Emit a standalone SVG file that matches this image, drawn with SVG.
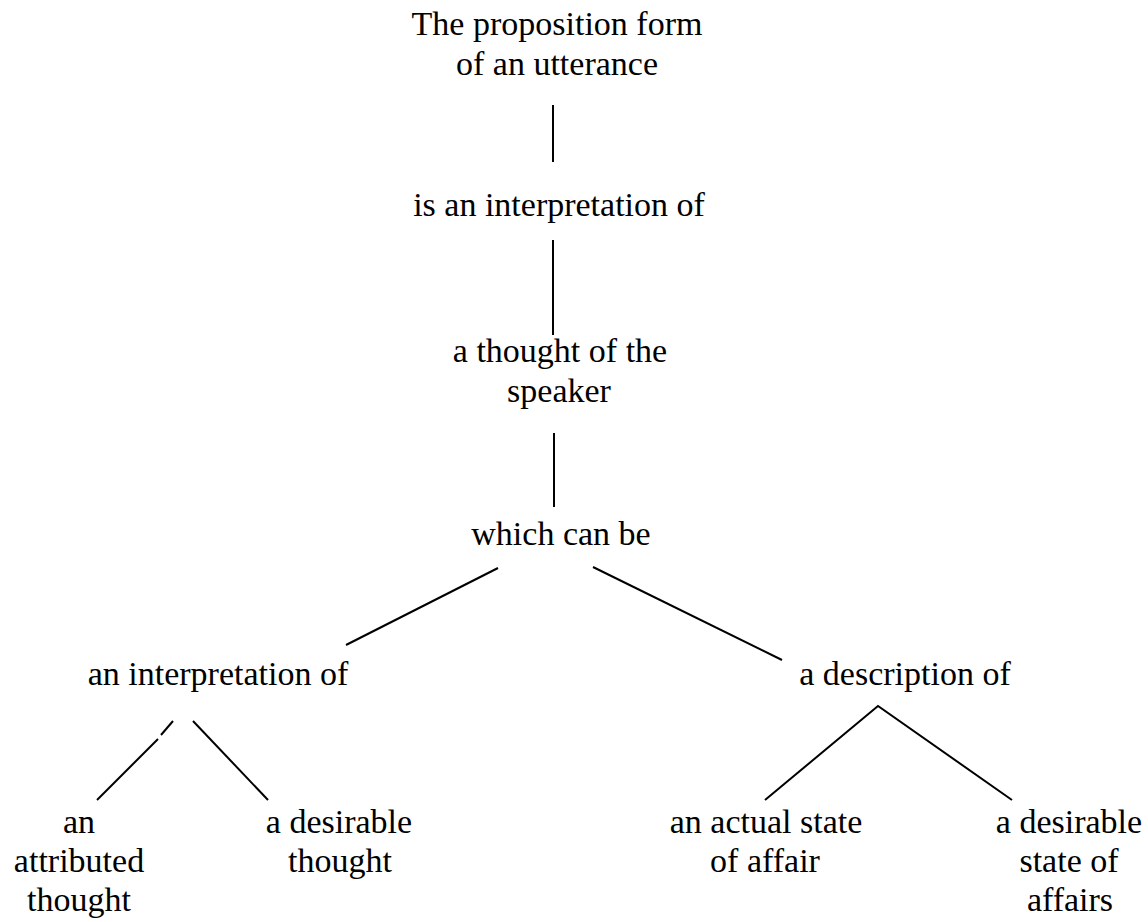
<svg xmlns="http://www.w3.org/2000/svg" width="1148" height="922" viewBox="0 0 1148 922">
  <style>
    .lbl { font-family: "Liberation Serif", "Times New Roman", serif; font-size: 34px; fill: #000; text-anchor: middle; }
    .edge { stroke: #000; stroke-width: 2; fill: none; stroke-linecap: butt; }
  </style>
  <rect width="1148" height="922" fill="#fff"/>

  <!-- connectors -->
  <g id="connectors">
    <line class="edge" x1="553" y1="105" x2="553" y2="162"/>
    <line class="edge" x1="553" y1="240" x2="553" y2="335"/>
    <line class="edge" x1="554" y1="433" x2="554" y2="507"/>
    <line class="edge" x1="498" y1="568" x2="346" y2="645"/>
    <line class="edge" x1="593" y1="567" x2="782" y2="660"/>
    <!-- left sub-branch, broken near the top -->
    <line class="edge" x1="173" y1="721" x2="161" y2="735"/>
    <line class="edge" x1="158" y1="739" x2="97" y2="800"/>
    <line class="edge" x1="193" y1="721" x2="268" y2="800"/>
    <!-- description branches -->
    <polyline class="edge" points="765,800 878,706 1012,800"/>
  </g>

  <g id="n-proposition">
    <text class="lbl" x="557" y="35">The proposition form</text>
    <text class="lbl" x="557" y="75">of an utterance</text>
  </g>
  <g id="n-interpretation-of">
    <text class="lbl" x="559" y="216">is an interpretation of</text>
  </g>
  <g id="n-thought">
    <text class="lbl" x="560" y="362">a thought of the</text>
    <text class="lbl" x="559" y="402">speaker</text>
  </g>
  <g id="n-which">
    <text class="lbl" x="561" y="545">which can be</text>
  </g>
  <g id="n-interpretation">
    <text class="lbl" x="218" y="685">an interpretation of</text>
  </g>
  <g id="n-description">
    <text class="lbl" x="905" y="685">a description of</text>
  </g>
  <g id="n-attributed">
    <text class="lbl" x="79" y="833">an</text>
    <text class="lbl" x="79" y="872">attributed</text>
    <text class="lbl" x="79" y="911">thought</text>
  </g>
  <g id="n-desirable-thought">
    <text class="lbl" x="339" y="833">a desirable</text>
    <text class="lbl" x="340" y="872">thought</text>
  </g>
  <g id="n-actual-state">
    <text class="lbl" x="766" y="833">an actual state</text>
    <text class="lbl" x="765" y="872">of affair</text>
  </g>
  <g id="n-desirable-state">
    <text class="lbl" x="1069" y="833">a desirable</text>
    <text class="lbl" x="1069" y="872">state of</text>
    <text class="lbl" x="1070" y="911">affairs</text>
  </g>
</svg>
